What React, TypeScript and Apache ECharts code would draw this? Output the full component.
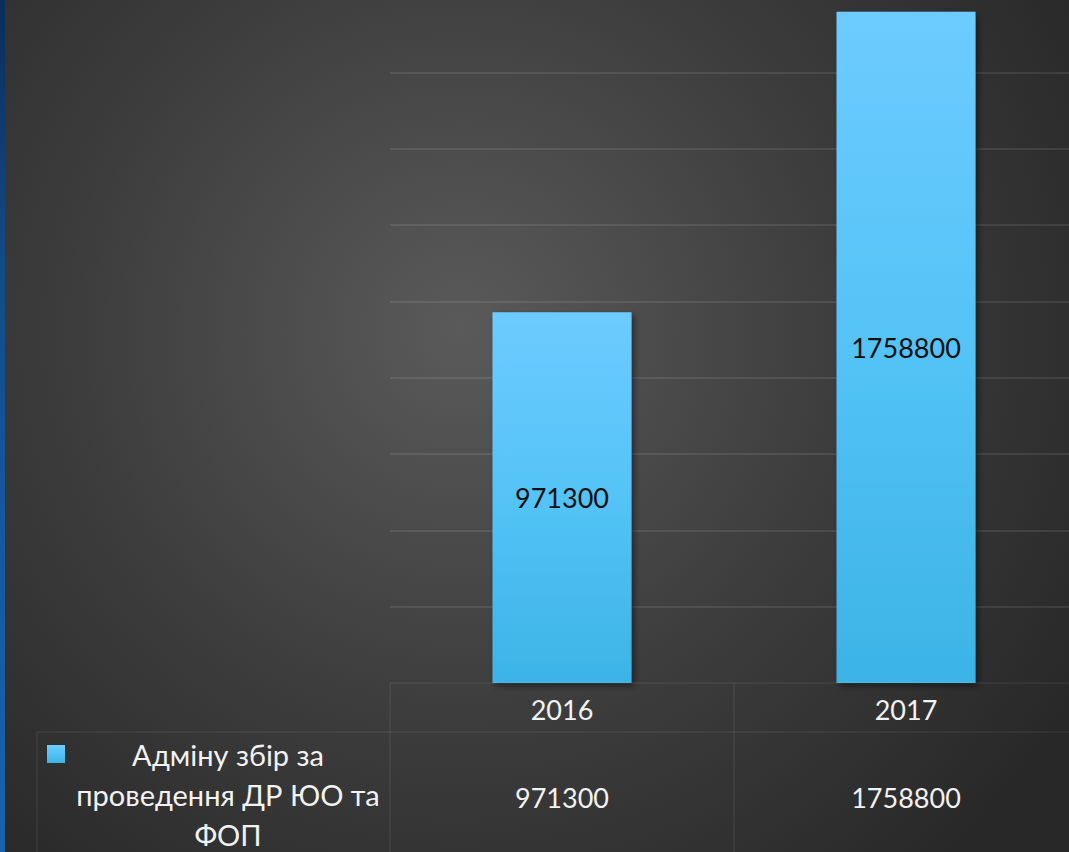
import React, { useEffect, useRef } from "react";
import * as echarts from "echarts";

const years = ["2016", "2017"];
const values = [971300, 1758800];
const seriesName = "Адміну збір за проведення ДР ЮО та ФОП";
const seriesNameLines = ["Адміну збір за", "проведення ДР ЮО та", "ФОП"];
const yMax = 1800000;
const yInterval = 200000;

const W = 1069;
const H = 852;
const FONT = "Lato, 'Open Sans', sans-serif";

export default function App() {
  const ref = useRef<HTMLDivElement>(null);
  useEffect(() => {
    if (!ref.current) return;
    const chart = echarts.init(ref.current, undefined, { renderer: "svg" });
    const gridLeft = 390;
    const gridWidth = 688;
    const gridTop = -4;
    const gridHeight = 687;
    const baseY = gridTop + gridHeight;
    const catW = gridWidth / years.length;
    const lineColor = "rgba(255,255,255,0.07)";

    const barGradient = new echarts.graphic.LinearGradient(0, 0, 0, 1, [
      { offset: 0, color: "#6dcbff" },
      { offset: 0.5, color: "#54c3f6" },
      { offset: 1, color: "#3cb3e6" },
    ]);

    const graphics: any[] = [
      {
        type: "rect",
        z: -100,
        silent: true,
        shape: { x: 0, y: 0, width: W, height: H },
        style: {
          fill: {
            type: "radial",
            x: 460,
            y: 330,
            r: 720,
            global: true,
            colorStops: [
              { offset: 0, color: "#5a5a5a" },
              { offset: 0.55, color: "#3c3c3c" },
              { offset: 1, color: "#282828" },
            ],
          },
        },
      },
      {
        type: "rect",
        z: 50,
        silent: true,
        shape: { x: 0, y: 0, width: 5, height: H },
        style: {
          fill: new echarts.graphic.LinearGradient(0, 0, 0, 1, [
            { offset: 0, color: "#0a2d5c" },
            { offset: 0.3, color: "#124a85" },
            { offset: 0.6, color: "#17579c" },
            { offset: 1, color: "#1a63aa" },
          ]),
        },
      },
      // table lines
      { type: "line", z: 5, silent: true, shape: { x1: gridLeft, y1: baseY, x2: W, y2: baseY }, style: { stroke: lineColor, lineWidth: 1.5 } },
      { type: "line", z: 5, silent: true, shape: { x1: 37, y1: 732, x2: W, y2: 732 }, style: { stroke: lineColor, lineWidth: 1.5 } },
      { type: "line", z: 5, silent: true, shape: { x1: 37, y1: 732, x2: 37, y2: H }, style: { stroke: lineColor, lineWidth: 1.5 } },
      ...years.map((_, i) => ({
        type: "line",
        z: 5,
        silent: true,
        shape: { x1: gridLeft + i * catW, y1: baseY, x2: gridLeft + i * catW, y2: H },
        style: { stroke: lineColor, lineWidth: 1.5 },
      })),
      // legend key
      {
        type: "rect",
        z: 5,
        shape: { x: 47, y: 745, width: 18, height: 18 },
        style: { fill: barGradient },
      },
      {
        type: "text",
        z: 5,
        x: 228,
        y: 794,
        style: {
          text: seriesNameLines.join("\n"),
          fill: "#f2f2f2",
          font: `29px ${FONT}`,
          align: "center",
          verticalAlign: "middle",
          lineHeight: 40,
        },
      },
      ...values.map((v, i) => ({
        type: "text",
        z: 5,
        x: gridLeft + (i + 0.5) * catW,
        y: 797,
        style: {
          text: String(v),
          fill: "#f2f2f2",
          font: `27px ${FONT}`,
          align: "center",
          verticalAlign: "middle",
        },
      })),
    ];

    chart.setOption({
      animation: false,
      backgroundColor: "#333",
      grid: {
        left: gridLeft,
        width: gridWidth,
        top: gridTop,
        height: gridHeight,
        outerBoundsMode: "none",
        containLabel: false,
      },
      xAxis: {
        type: "category",
        data: years,
        axisLine: { show: false },
        axisTick: { show: false },
        axisLabel: {
          color: "#f2f2f2",
          fontSize: 27,
          fontFamily: FONT,
          margin: 26,
          verticalAlign: "middle",
        },
      },
      yAxis: {
        type: "value",
        min: 0,
        max: yMax,
        interval: yInterval,
        axisLabel: { show: false },
        axisLine: { show: false },
        axisTick: { show: false },
        splitLine: {
          lineStyle: {
            color: ["rgba(0,0,0,0)", ...Array(9).fill("rgba(255,255,255,0.09)")],
            width: 2,
          },
        },
      },
      series: [
        {
          type: "bar",
          name: seriesName,
          data: values,
          barWidth: 139,
          itemStyle: {
            color: barGradient,
            shadowColor: "rgba(0,0,0,0.45)",
            shadowBlur: 6,
            shadowOffsetX: 3,
            shadowOffsetY: 3,
          },
          label: {
            show: true,
            position: "inside",
            color: "#111",
            fontSize: 27,
            fontFamily: FONT,
          },
        },
      ],
      graphic: graphics,
    });
    return () => chart.dispose();
  }, []);
  return (
    <div
      ref={ref}
      style={{ position: "fixed", left: 0, top: 0, width: W, height: H }}
    />
  );
}
